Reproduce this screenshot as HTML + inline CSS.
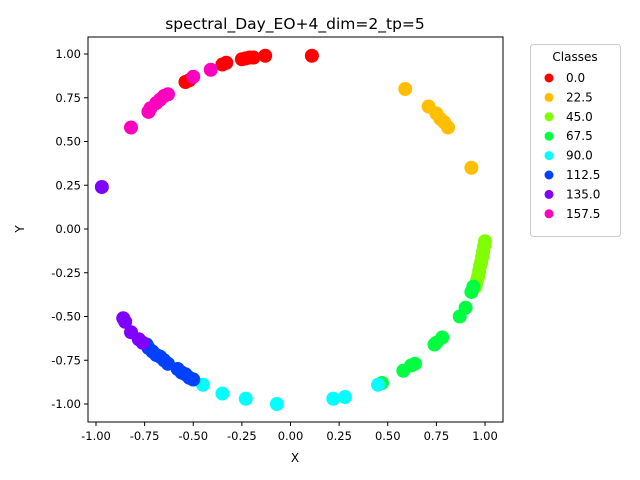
<!DOCTYPE html>
<html><head><meta charset="utf-8"><style>body{margin:0;background:#fff}svg{display:block;font-family:"DejaVu Sans","Liberation Sans",sans-serif}</style></head>
<body>
<svg id="c" width="640" height="480"></svg>
<script>
const classes=["0.0","22.5","45.0","67.5","90.0","112.5","135.0","157.5"];
const colors=["#ff0000","#ffbf00","#80ff00","#00ff40","#00ffff","#0040ff","#8000ff","#ff00bf"];
const xs0=[0.11,-0.13,-0.19,-0.21,-0.23,-0.25,-0.33,-0.35,-0.52,-0.54];
const ys0=[0.99,0.99,0.98,0.98,0.975,0.97,0.95,0.94,0.85,0.84];
const xs1=[0.59,0.71,0.75,0.77,0.79,0.81,0.93];
const ys1=[0.80,0.70,0.66,0.63,0.61,0.58,0.35];
const xs2=[1.0,0.995,0.99,0.985,0.98,0.975,0.97,0.965,0.96,0.955,0.95];
const ys2=[-0.07,-0.1,-0.13,-0.16,-0.19,-0.21,-0.24,-0.27,-0.29,-0.31,-0.33];
const xs3=[0.94,0.93,0.9,0.87,0.78,0.75,0.74,0.64,0.62,0.58,0.47];
const ys3=[-0.33,-0.36,-0.45,-0.50,-0.62,-0.65,-0.66,-0.77,-0.78,-0.81,-0.88];
const xs4=[0.45,0.28,0.22,-0.07,-0.23,-0.35,-0.45,-0.5];
const ys4=[-0.89,-0.96,-0.97,-1.0,-0.97,-0.94,-0.89,-0.86];
const xs5=[-0.74,-0.73,-0.71,-0.69,-0.67,-0.65,-0.63,-0.58,-0.56,-0.54,-0.52,-0.50];
const ys5=[-0.66,-0.68,-0.70,-0.72,-0.73,-0.75,-0.77,-0.80,-0.82,-0.83,-0.85,-0.86];
const xs6=[-0.97,-0.86,-0.85,-0.82,-0.78,-0.76,-0.73];
const ys6=[0.24,-0.51,-0.53,-0.59,-0.63,-0.65,0.67];
const xs7=[-0.82,-0.73,-0.72,-0.69,-0.67,-0.65,-0.63,-0.50,-0.41];
const ys7=[0.58,0.67,0.69,0.72,0.74,0.76,0.77,0.87,0.91];
const xTicks=[-1.0,-0.75,-0.5,-0.25,0.0,0.25,0.5,0.75,1.0];
const yTicks=[-1.0,-0.75,-0.5,-0.25,0.0,0.25,0.5,0.75,1.0];
const XS=[xs0,xs1,xs2,xs3,xs4,xs5,xs6,xs7],YS=[ys0,ys1,ys2,ys3,ys4,ys5,ys6,ys7];
const L=88,R=503,T=37,B=422;
const sx=v=>290.5+194.5*v, sy=v=>229-175*v;
const svg=document.getElementById('c');const NS='http://www.w3.org/2000/svg';
function mk(t,a,p){const e=document.createElementNS(NS,t);for(const k in a)e.setAttribute(k,a[k]);(p||svg).appendChild(e);return e;}
XS.forEach((xa,ci)=>{const g=mk('g',{});


xa.forEach((x,i)=>{const c=mk('circle',{cx:sx(x),cy:sy(YS[ci][i]),r:7,fill:colors[ci]},g);

});});
const fr=mk('rect',{x:L,y:T,width:R-L,height:B-T,fill:'none',stroke:'#000','stroke-width':1});


xTicks.forEach(v=>{const x=sx(v);mk('line',{x1:x,x2:x,y1:B,y2:B+4,stroke:'#000'});
const t=mk('text',{x:x,y:B+18,'text-anchor':'middle','font-size':11.5});t.textContent=v.toFixed(2);

});
yTicks.forEach(v=>{const y=sy(v);mk('line',{x1:L-4,x2:L,y1:y,y2:y,stroke:'#000'});
const t=mk('text',{x:L-7,y:y+4,'text-anchor':'end','font-size':11.5});t.textContent=v.toFixed(2);

});
let t=mk('text',{x:295,y:29,'text-anchor':'middle','font-size':15.5});t.textContent='spectral_Day_EO+4_dim=2_tp=5';


t=mk('text',{x:295,y:462,'text-anchor':'middle','font-size':12});t.textContent='X';


t=mk('text',{x:24,y:229,'text-anchor':'middle','font-size':12,transform:'rotate(-90 24 229)'});t.textContent='Y';


const lg=mk('g',{});


mk('rect',{x:530.5,y:44.5,width:90,height:192,rx:3,fill:'#fff',stroke:'#ccc'},lg);
t=mk('text',{x:575,y:61,'text-anchor':'middle','font-size':12},lg);t.textContent='Classes';
classes.forEach((c,i)=>{const y=78+i*19.4;const e=mk('g',{},lg);


mk('circle',{cx:549,cy:y,r:4.5,fill:colors[i]},e);
const tt=mk('text',{x:566,y:y+4,'font-size':12},e);tt.textContent=c;});
</script>
</body></html>
